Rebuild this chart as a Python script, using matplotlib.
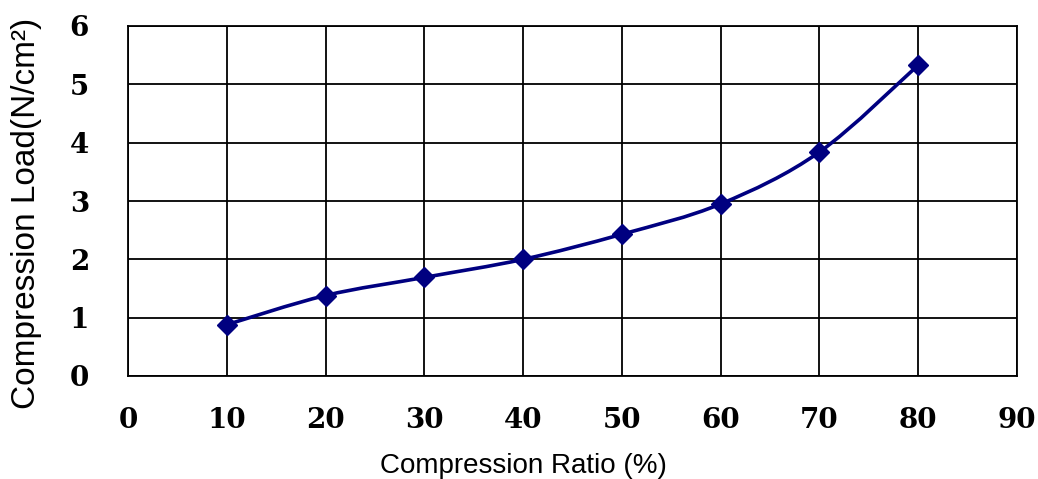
import numpy as np
import matplotlib.pyplot as plt
from matplotlib.path import Path
from matplotlib.patches import PathPatch

# ---------- data ----------
ratio = [10, 20, 30, 40, 50, 60, 70, 80]                 # compression ratio [%]
load = [0.88, 1.38, 1.69, 2.00, 2.43, 2.95, 3.84, 5.33]  # compression load [N/cm2]
x_ticks = [0, 10, 20, 30, 40, 50, 60, 70, 80, 90]
y_ticks = [0, 1, 2, 3, 4, 5, 6]

navy = '#000080'

fig = plt.figure(figsize=(10.38, 4.79), dpi=100)
ax = fig.add_axes([128 / 1038, 1 - 376 / 479, 889 / 1038, 350 / 479])

# smooth curve through the points (Catmull-Rom as cubic Bezier segments)
pts = np.column_stack([ratio, load]).astype(float)
verts = [tuple(pts[0])]
codes = [Path.MOVETO]
n = len(pts)
for i in range(n - 1):
    p0 = pts[max(i - 1, 0)]
    p1 = pts[i]
    p2 = pts[i + 1]
    p3 = pts[min(i + 2, n - 1)]
    c1 = p1 + (p2 - p0) / 6.0
    c2 = p2 - (p3 - p1) / 6.0
    verts += [tuple(c1), tuple(c2), tuple(p2)]
    codes += [Path.CURVE4] * 3
ax.add_patch(PathPatch(Path(verts, codes), facecolor='none', edgecolor=navy,
                       lw=2.6, zorder=3))
ax.plot(ratio, load, linestyle='none', marker='D', markersize=10,
        color=navy, zorder=4)

ax.set_xlim(0, 90)
ax.set_ylim(0, 6)
ax.set_xticks(x_ticks)
ax.set_yticks(y_ticks)
ax.grid(True, color='black', lw=1.3)
for s in ax.spines.values():
    s.set_color('black')
    s.set_linewidth(1.3)
ax.tick_params(length=0, pad=22)
ax.tick_params(axis='y', pad=28)
for lab in ax.get_xticklabels() + ax.get_yticklabels():
    lab.set_fontfamily('DejaVu Serif')
    lab.set_fontweight('bold')
    lab.set_fontsize(20)

ax.set_xlabel('Compression Ratio (%)', fontsize=20, family='Liberation Sans')
ax.xaxis.set_label_coords(0.445, -0.22)
ax.set_ylabel('Compression Load(N/cm²)', fontsize=24, family='Liberation Sans')
ax.yaxis.set_label_coords(-0.097, 0.466)

plt.savefig('out.png', dpi=100)
